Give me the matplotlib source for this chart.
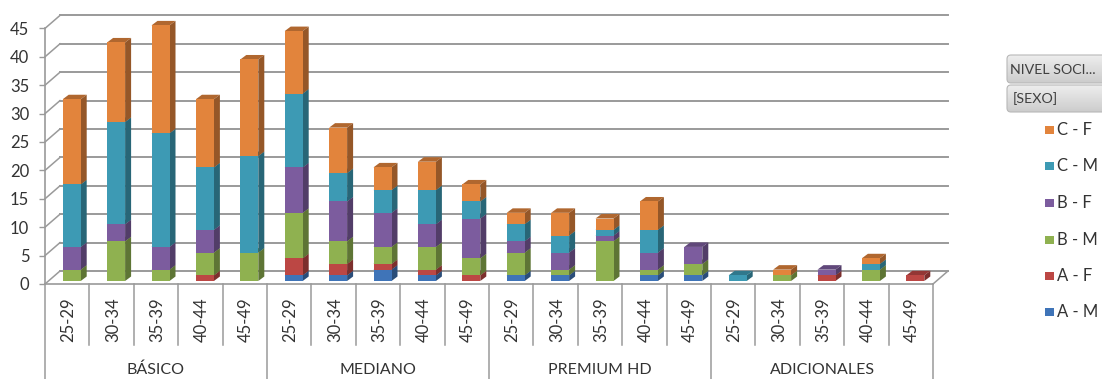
import matplotlib
matplotlib.use("Agg")
import matplotlib.pyplot as plt
from matplotlib.patches import Polygon, FancyBboxPatch, Rectangle
from matplotlib.transforms import blended_transform_factory
import numpy as np
import matplotlib.colors as mcolors

plt.rcParams['font.family'] = ['Lato', 'DejaVu Sans']

# ---------------- data ----------------
groups = ["BÁSICO", "MEDIANO", "PREMIUM HD", "ADICIONALES"]
ages = ["25-29", "30-34", "35-39", "40-44", "45-49"]
series_names = ["A - M", "A - F", "B - M", "B - F", "C - M", "C - F"]
A_M = [0, 0, 0, 0, 0,   1, 1, 2, 1, 0,   1, 1, 0, 1, 1,   0, 0, 0, 0, 0]
A_F = [0, 0, 0, 1, 0,   3, 2, 1, 1, 1,   0, 0, 0, 0, 0,   0, 0, 1, 0, 1]
B_M = [2, 7, 2, 4, 5,   8, 4, 3, 4, 3,   4, 1, 7, 1, 2,   0, 1, 0, 2, 0]
B_F = [4, 3, 4, 4, 0,   8, 7, 6, 4, 7,   2, 3, 1, 3, 3,   0, 0, 1, 0, 0]
C_M = [11, 18, 20, 11, 17, 13, 5, 4, 6, 3, 3, 3, 1, 4, 0,  1, 0, 0, 1, 0]
C_F = [15, 14, 19, 12, 17, 11, 8, 4, 5, 3, 2, 4, 2, 5, 0,  0, 1, 0, 1, 0]
series_values = [A_M, A_F, B_M, B_F, C_M, C_F]
colors = ["#3F74B8", "#BC4744", "#8FB150", "#7C5C9E", "#3D9AB4", "#E2843C"]
yticks = list(range(0, 50, 5))

# ---------------- layout ----------------
W, H = 1102, 379
fig = plt.figure(figsize=(W / 100, H / 100), dpi=100)
px_left, px_right, px_zero, px_top = 45, 933, 284, 28.4
ax = fig.add_axes([px_left / W, (H - px_zero) / H, (px_right - px_left) / W, (px_zero - px_top) / H])
ncat = len(A_M)
ax.set_xlim(-0.5, ncat - 0.5)
ax.set_ylim(0, 45)

cat_px = (px_right - px_left) / ncat
val_px = (px_zero - px_top) / 45.0
DX, DY = 15 / cat_px, 13 / val_px          # back-wall depth
OX, OY = 4.5 / cat_px, 3 / val_px          # bar front offset
BW = 18 / cat_px                            # bar front width
BDX, BDY = 6 / cat_px, 4.5 / val_px         # bar depth

grid_c = "#9A9A9A"
txt_c = "#333333"

def yf(py):
    return 1 - py / H

# back wall gridlines and left wall diagonals
for v in yticks:
    ax.plot([-0.5 + DX, ncat - 0.5 + DX], [v + DY, v + DY], color=grid_c, lw=1.4,
            clip_on=False, zorder=1)
    ax.plot([-0.5, -0.5 + DX], [v, v + DY], color=grid_c, lw=1.1, clip_on=False, zorder=1)
# floor right diagonal
ax.plot([ncat - 0.5, ncat - 0.5 + DX], [0, DY], color=grid_c, lw=1.1, clip_on=False, zorder=1)

# axes styling
for s in ["top", "right"]:
    ax.spines[s].set_visible(False)
for s in ["left", "bottom"]:
    ax.spines[s].set_color(grid_c)
    ax.spines[s].set_linewidth(1.2)
ax.set_facecolor("none")
ax.set_yticks(yticks)
ax.set_yticklabels([str(t) for t in yticks], fontsize=12, color=txt_c)
ax.tick_params(axis='y', length=4.3, width=1.0, color=grid_c, pad=7)
ax.set_xticks([])


def shade(c, f):
    r, g, b = mcolors.to_rgb(c)
    return (r * f, g * f, b * f)


# 3D bars
for i in range(ncat):
    bottom = 0
    x0 = i - BW / 2 + OX
    x1 = x0 + BW
    for vals, col in zip(series_values, colors):
        v = vals[i]
        if v <= 0:
            continue
        y0 = bottom + OY
        y1 = bottom + v + OY
        front = Polygon([(x0, y0), (x1, y0), (x1, y1), (x0, y1)], closed=True,
                        facecolor=col, edgecolor="none", clip_on=False, zorder=3)
        side = Polygon([(x1, y0), (x1 + BDX, y0 + BDY), (x1 + BDX, y1 + BDY), (x1, y1)],
                       closed=True, facecolor=shade(col, 0.66), edgecolor="none",
                       clip_on=False, zorder=3)
        top = Polygon([(x0, y1), (x1, y1), (x1 + BDX, y1 + BDY), (x0 + BDX, y1 + BDY)],
                      closed=True, facecolor=shade(col, 0.78), edgecolor="none",
                      clip_on=False, zorder=3)
        ax.add_patch(top)
        ax.add_patch(side)
        ax.add_patch(front)
        bottom += v

# category table below
bt = blended_transform_factory(ax.transData, fig.transFigure)
for k in range(ncat + 1):
    xb = k - 0.5
    if k % len(ages) == 0:
        ax.plot([xb, xb], [yf(px_zero), yf(H + 2)], color=grid_c, lw=1.1,
                transform=bt, clip_on=False)
    else:
        ax.plot([xb, xb], [yf(px_zero), yf(345)], color=grid_c, lw=1.1,
                transform=bt, clip_on=False)
for i in range(ncat):
    ax.text(i + 0.03, yf(320), ages[i % len(ages)], rotation=90, ha='center', va='center',
            fontsize=12, color=txt_c, transform=bt)
for g, name in enumerate(groups):
    xc = g * len(ages) + (len(ages) - 1) / 2
    ax.text(xc, yf(370), name, ha='center', va='center', fontsize=11.5, color=txt_c,
            transform=bt)

# ---------------- legend (pixel overlay) ----------------
lax = fig.add_axes([0, 0, 1, 1], zorder=5)
lax.set_xlim(0, W)
lax.set_ylim(H, 0)
lax.axis('off')

grad = np.linspace(0.93, 0.80, 64).reshape(-1, 1)
for (bx, by, bw, bh, label, tx) in [(1007, 55, 110, 28, "NIVEL SOCI...", 1010),
                                    (1007, 85, 110, 27, "[SEXO]", 1013)]:
    patch = FancyBboxPatch((bx, by), bw, bh, boxstyle="round,pad=0,rounding_size=4",
                           facecolor="none", edgecolor="#B8B8B8", lw=0.8, zorder=6)
    lax.add_patch(patch)
    im = lax.imshow(grad, extent=(bx, bx + bw, by + bh, by), cmap="gray", vmin=0, vmax=1,
                    aspect='auto', zorder=5, interpolation='bilinear')
    im.set_clip_path(patch)
    lax.text(tx, by + bh / 2 + 0.5, label, ha='left', va='center', fontsize=10.3,
             color="#404040", zorder=7)
lax.set_xlim(0, W)
lax.set_ylim(H, 0)

leg_y = [130, 166, 203, 240, 276, 312]
for yy, name, col in zip(leg_y, series_names[::-1], colors[::-1]):
    lax.add_patch(Rectangle((1045, yy - 4.5), 8.5, 8.5, facecolor=col, edgecolor="none"))
    lax.text(1057, yy, name, ha='left', va='center', fontsize=12, color=txt_c)

fig.savefig("out.png", dpi=100)
